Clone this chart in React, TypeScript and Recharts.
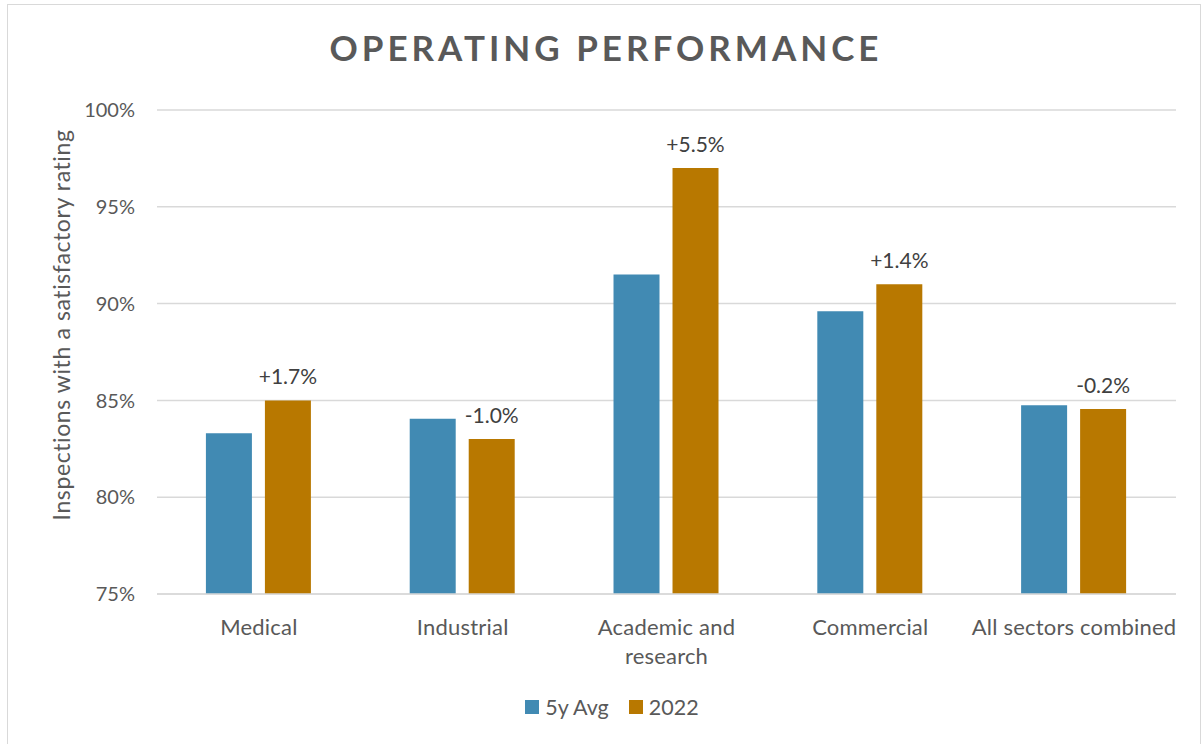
import { Bar, BarChart, CartesianGrid, Label, LabelList, Legend, XAxis, YAxis } from 'recharts'

const categories = ['Medical', 'Industrial', 'Academic and\nresearch', 'Commercial', 'All sectors combined']
const avg5y = [83.3, 84.05, 91.5, 89.6, 84.75]
const year2022 = [85.0, 83.0, 97.0, 91.0, 84.55]
const changes = ['+1.7%', '-1.0%', '+5.5%', '+1.4%', '-0.2%']
const yTicks = [75, 80, 85, 90, 95, 100]

const data = categories.map((name, i) => ({
  name,
  avg: avg5y[i],
  y2022: year2022[i],
  change: changes[i],
}))

const FONT = 'Lato, "Noto Sans", sans-serif'
const GREY = '#595959'
const BLUE = '#418AB3'
const GOLD = '#B87800'

const CategoryTick = ({ x, y, payload }: any) => {
  const lines = String(payload.value).split('\n')
  return (
    <text x={x} y={y} textAnchor='middle' fill={GREY} fontSize={22} fontFamily={FONT} letterSpacing={0.2}>
      {lines.map((line, i) => (
        <tspan key={i} x={x} dy={i === 0 ? 37 : 29}>
          {line}
        </tspan>
      ))}
    </text>
  )
}

const AxisTitle = () => {
  const cx = 61
  const cy = 325
  return (
    <text
      x={cx}
      y={cy}
      transform={`rotate(-90, ${cx}, ${cy})`}
      textAnchor='middle'
      dominantBaseline='central'
      fill={GREY}
      fontSize={23}
      letterSpacing={0.6}
      fontFamily={FONT}
    >
      Inspections with a satisfactory rating
    </text>
  )
}

const legendItems = [
  { label: '5y Avg', color: BLUE },
  { label: '2022', color: GOLD },
]

const LegendContent = () => (
  <div style={{ display: 'flex', justifyContent: 'center', alignItems: 'center', gap: 20, paddingLeft: 48 }}>
    {legendItems.map((item) => (
      <div key={item.label} style={{ display: 'flex', alignItems: 'center', gap: 6 }}>
        <span style={{ display: 'inline-block', width: 14, height: 14, background: item.color }} />
        <span style={{ color: GREY, fontSize: 21.5, fontFamily: FONT, lineHeight: '24px' }}>{item.label}</span>
      </div>
    ))}
  </div>
)

export default function App() {
  return (
    <div style={{ position: 'absolute', left: 0, top: 0, width: 1202, height: 744, background: '#fff', fontFamily: FONT }}>
      <div
        style={{
          position: 'absolute',
          left: 7,
          top: 4,
          width: 1194,
          height: 745,
          border: '1px solid #d9d9d9',
          boxSizing: 'border-box',
        }}
      />
      <div
        style={{
          position: 'absolute',
          left: 0,
          top: 26,
          width: 1212,
          textAlign: 'center',
          fontSize: 35,
          fontWeight: 700,
          letterSpacing: 4,
          color: GREY,
        }}
      >
        OPERATING PERFORMANCE
      </div>
      <BarChart
        width={1202}
        height={744}
        data={data}
        margin={{ top: 110, right: 26, bottom: 25, left: 0 }}
        barCategoryGap='24%'
        barGap={13}
        style={{ position: 'absolute', left: 0, top: 0 }}
      >
        <CartesianGrid vertical={false} stroke='#d9d9d9' strokeWidth={1.5} />
        <XAxis
          dataKey='name'
          height={101}
          tick={<CategoryTick />}
          tickLine={false}
          tickSize={0}
          tickMargin={4}
          axisLine={{ stroke: '#d9d9d9', strokeWidth: 1.5 }}
          interval={0}
        />
        <YAxis
          width={157}
          domain={[75, 100]}
          ticks={yTicks}
          tickFormatter={(v) => `${v}%`}
          tick={{ fill: GREY, fontSize: 20, fontFamily: FONT }}
          tickLine={false}
          tickSize={0}
          tickMargin={22}
          axisLine={false}
        >
          <Label content={<AxisTitle />} />
        </YAxis>
        <Legend verticalAlign='bottom' align='center' height={24} content={<LegendContent />} />
        <Bar dataKey='avg' name='5y Avg' fill={BLUE} isAnimationActive={false} />
        <Bar dataKey='y2022' name='2022' fill={GOLD} isAnimationActive={false}>
          <LabelList
            dataKey='change'
            position='top'
            offset={16}
            fill='#404040'
            fontSize={21}
            fontFamily={FONT}
          />
        </Bar>
      </BarChart>
    </div>
  )
}
